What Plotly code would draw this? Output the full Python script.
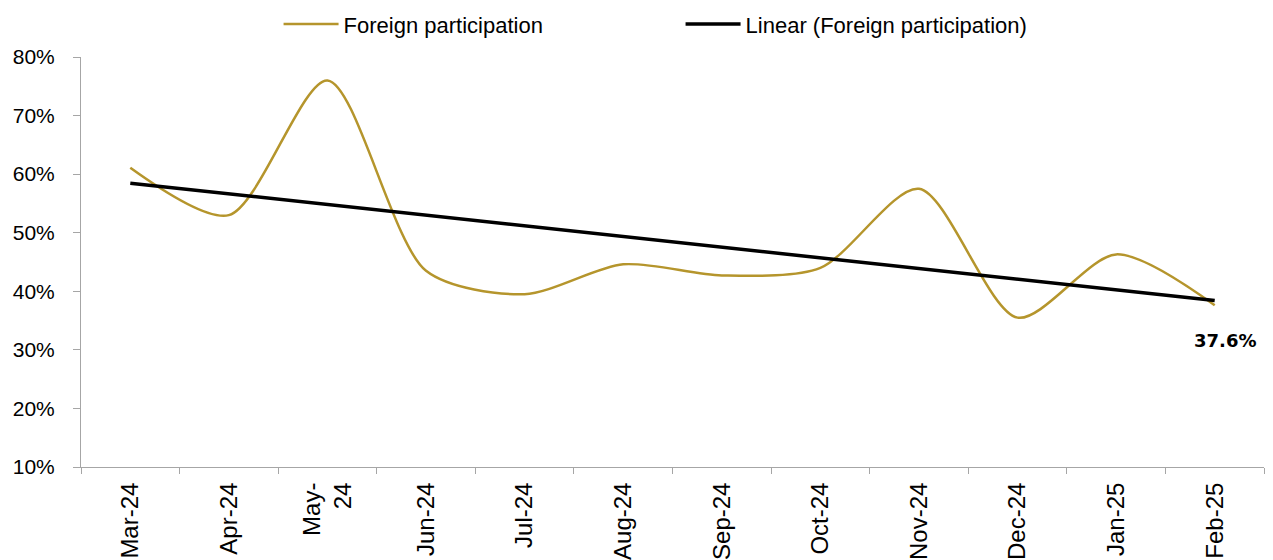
import numpy as np
import plotly.graph_objects as go

months = ["Mar-24", "Apr-24", "May-<br>24", "Jun-24", "Jul-24", "Aug-24",
          "Sep-24", "Oct-24", "Nov-24", "Dec-24", "Jan-25", "Feb-25"]
foreign = [0.611, 0.530, 0.760, 0.435, 0.395, 0.446, 0.427, 0.440, 0.575, 0.355, 0.463, 0.376]
y_ticks = [0.1, 0.2, 0.3, 0.4, 0.5, 0.6, 0.7, 0.8]

idx = np.arange(len(foreign))
slope, intercept = np.polyfit(idx, foreign, 1)
trend = list(intercept + slope * idx)

gold = "#B5952C"
fig = go.Figure()
fig.add_trace(go.Scatter(x=months, y=foreign, mode="lines", name="Foreign participation",
                         line=dict(color=gold, width=2.5, shape="spline", smoothing=0.8)))
fig.add_trace(go.Scatter(x=months, y=trend, mode="lines", name="Linear (Foreign participation)",
                         line=dict(color="black", width=3.5)))

fig.add_annotation(x=months[-1], y=foreign[-1], text="<b>37.6%</b>", showarrow=False,
                   xshift=10, yshift=-35, font=dict(family="DejaVu Sans", size=18, color="black"))

fig.update_layout(
    width=1273, height=560,
    margin=dict(l=73, r=17, t=49, b=101, autoexpand=False),
    plot_bgcolor="white", paper_bgcolor="white",
    showlegend=True,
    legend=dict(orientation="h", x=0.167, xanchor="left", y=1.08, yanchor="middle",
                font=dict(family="Liberation Sans", size=22, color="black"),
                itemwidth=55, entrywidth=332, tracegroupgap=0, bgcolor="rgba(0,0,0,0)"),
    xaxis=dict(showgrid=False, showline=True, linecolor="#A6A6A6", linewidth=1,
               range=[-0.5, 11.5], ticks="outside", tickson="boundaries", ticklen=6,
               tickcolor="#A6A6A6", tickangle=-90, ticklabelstandoff=5,
               tickfont=dict(family="Liberation Sans", size=24, color="black")),
    yaxis=dict(range=[0.1, 0.8], tickvals=y_ticks, tickformat=".0%", showgrid=False,
               showline=True, linecolor="#A6A6A6", linewidth=1, ticks="outside", ticklen=7,
               tickcolor="#A6A6A6", zeroline=False, ticklabelstandoff=14,
               tickfont=dict(family="Liberation Sans", size=21, color="black")),
)
fig.write_html("out.html")
